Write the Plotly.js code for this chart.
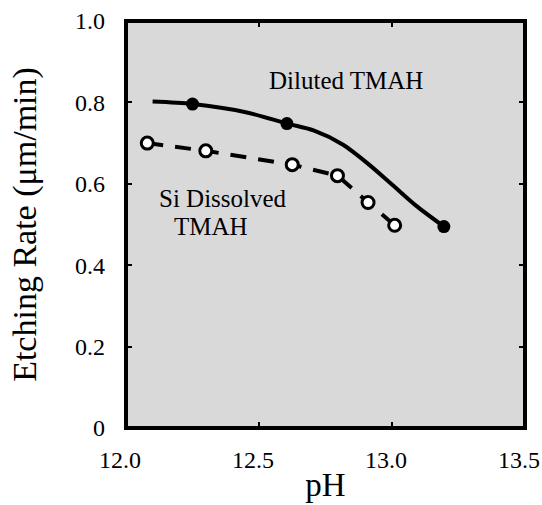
<!DOCTYPE html>
<html>
<head>
<meta charset="utf-8">
<script src="https://cdn.plot.ly/plotly-3.0.1.min.js"></script>
<style>html,body{margin:0;padding:0;background:#fff;}#chart{width:542px;height:505px;}</style>
</head>
<body>
<div id="chart"></div>
<script>
const dilutedCurvePH   = [12.10, 12.25, 12.45, 12.605, 12.705, 12.816, 12.916, 13.002, 13.089, 13.195];
const dilutedCurveRate = [0.802, 0.796, 0.776, 0.748, 0.731, 0.696, 0.646, 0.597, 0.547, 0.495];
const dilutedPH   = [12.25, 12.605, 13.195];
const dilutedRate = [0.796, 0.748, 0.495];

// Si Dissolved TMAH: measured points (open circles, dashed)
const siPH   = [12.08, 12.30, 12.625, 12.795, 12.91, 13.01];
const siRate = [0.700, 0.681, 0.647, 0.620, 0.554, 0.498];

// Axis ticks
const xTickVals = [12.0, 12.5, 13.0, 13.5];
const xTickText = ["12.0", "12.5", "13.0", "13.5"];
const yTickVals = [0, 0.2, 0.4, 0.6, 0.8, 1.0];
const yTickText = ["0", "0.2", "0.4", "0.6", "0.8", "1.0"];

const FONT = "Liberation Serif";

const traces = [
  {x: dilutedCurvePH, y: dilutedCurveRate, mode: "lines", line: {shape: "spline", smoothing: 0.8, color: "#000", width: 4}, hoverinfo: "skip"},
  {x: dilutedPH, y: dilutedRate, mode: "markers", marker: {symbol: "circle", size: 13, color: "#000"}},
  {x: siPH, y: siRate, mode: "lines+markers", line: {color: "#000", width: 4, dash: "16px,12px"},
   marker: {symbol: "circle", size: 12, color: "#fff", line: {color: "#000", width: 3}}}
];

const layout = {
  width: 542, height: 505,
  margin: {l: 126, r: 17, t: 21, b: 77},
  paper_bgcolor: "#fff",
  plot_bgcolor: "#d9d9d9",
  showlegend: false,
  font: {family: FONT, color: "#000", size: 24},
  xaxis: {
    range: [12.0, 13.5], tickvals: xTickVals, ticktext: xTickText,
    ticks: "inside", ticklen: 6, tickwidth: 2, tickcolor: "#000", mirror: "ticks",
    showgrid: false, zeroline: false, showline: false,
    tickfont: {family: FONT, size: 24, color: "#000"}, ticklabelstandoff: 15,
    ticklabelshift: -6, ticklabeloverflow: "allow",
    title: {text: "pH", font: {family: FONT, size: 33}, standoff: 0}
  },
  yaxis: {
    range: [0, 1.0], tickvals: yTickVals, ticktext: yTickText,
    ticks: "inside", ticklen: 6, tickwidth: 2, tickcolor: "#000", mirror: "ticks",
    showgrid: false, zeroline: false, showline: false,
    tickfont: {family: FONT, size: 24, color: "#000"}, ticklabelstandoff: 20,
    ticklabeloverflow: "allow",
    title: {text: "Etching Rate (μm/min)", font: {family: FONT, size: 34}, standoff: 28}
  },
  shapes: [{type: "rect", xref: "paper", yref: "paper", x0: 0, x1: 1, y0: 0, y1: 1,
            line: {color: "#000", width: 4}, layer: "above"}],
  annotations: [
    {x: 12.826, y: 0.855, xref: "x", yref: "y", text: "Diluted TMAH", showarrow: false,
     font: {family: FONT, size: 25, color: "#000"}},
    {x: 12.365, y: 0.563, xref: "x", yref: "y", text: "Si Dissolved", showarrow: false,
     font: {family: FONT, size: 25, color: "#000"}},
    {x: 12.32, y: 0.496, xref: "x", yref: "y", text: "TMAH", showarrow: false,
     font: {family: FONT, size: 25, color: "#000"}}
  ]
};

Plotly.newPlot("chart", traces, layout, {displayModeBar: false, staticPlot: true});
</script>
</body>
</html>
